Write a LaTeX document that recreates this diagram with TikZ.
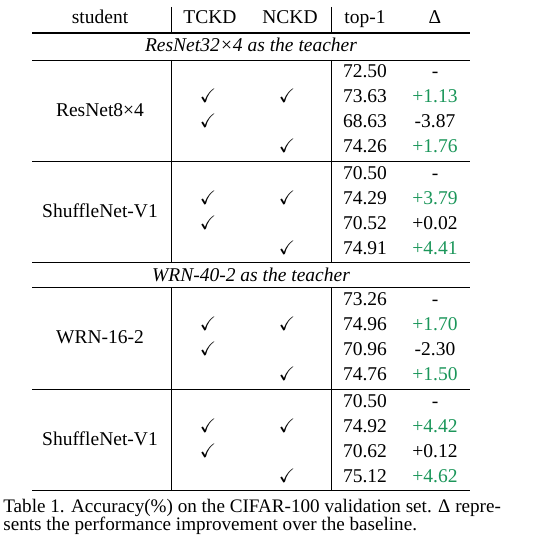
\documentclass[tikz,border=0pt]{standalone}
\usepackage{amssymb}
\usepackage{fontspec}
\setmainfont{Liberation Serif}
\definecolor{gainc}{RGB}{27,150,90}
\begin{document}
\begin{tikzpicture}[x=0.523pt,y=-0.523pt,
  txt/.style={anchor=base,inner sep=0pt,font=\fontsize{10.2}{12}\selectfont},
  gain/.style={txt,text=gainc},
  captxt/.style={anchor=base west,inner sep=0pt,font=\fontsize{10}{12}\selectfont},
  midrule/.style={line width=0.5pt},
  toprule/.style={line width=1.3pt},
  vrule/.style={line width=0.5pt}]
\useasboundingbox (0,0) rectangle (557,548);
% header
\node[txt] (hs) at (100,24) {student};
\node[txt] (ht) at (210,24) {TCKD};
\node[txt] (hn) at (290,24) {NCKD};
\node[txt] (hp) at (365,24) {top-1};
\node[txt] (hd) at (435,24) {Δ};
\draw[toprule] (32,33) -- (470,33);
\node[txt] (t1) at (251,52) {\itshape ResNet32×4 as the teacher};
\draw[midrule] (32,60) -- (470,60);
\draw[midrule] (32,161) -- (470,161);
\draw[midrule] (32,262) -- (470,262);
\node[txt] (t2) at (251,281) {\itshape WRN-40-2 as the teacher};
\draw[midrule] (32,287) -- (470,287);
\draw[midrule] (32,389) -- (470,389);
\draw[midrule] (32,490) -- (470,490);
% vertical rules
\foreach \xx in {171,331} {
  \draw[vrule] (\xx,7) -- (\xx,33);
  \draw[vrule] (\xx,60) -- (\xx,262);
  \draw[vrule] (\xx,287) -- (\xx,490);
}
% group 1
\node[txt] (s1) at (100,116) {ResNet8×4};
\node[txt] (a1) at (365,78) {72.50};  \node[txt] (d1) at (435,78) {-};
\node[txt] (a2) at (365,103) {73.63}; \node[gain] (d2) at (435,103) {+1.13};
\node[txt] (a3) at (365,128) {68.63}; \node[txt] (d3) at (435,128) {-3.87};
\node[txt] (a4) at (365,153) {74.26}; \node[gain] (d4) at (435,153) {+1.76};
\node[txt] (c1a) at (208,103) {$\checkmark$}; \node[txt] (c1b) at (287,103) {$\checkmark$};
\node[txt] (c1c) at (208,128) {$\checkmark$}; \node[txt] (c1d) at (287,153) {$\checkmark$};
% group 2
\node[txt] (s2) at (100,217) {ShuffleNet-V1};
\node[txt] (b1) at (365,179) {70.50};  \node[txt] (e1) at (435,179) {-};
\node[txt] (b2) at (365,204) {74.29}; \node[gain] (e2) at (435,204) {+3.79};
\node[txt] (b3) at (365,229) {70.52}; \node[txt] (e3) at (435,229) {+0.02};
\node[txt] (b4) at (365,254) {74.91}; \node[gain] (e4) at (435,254) {+4.41};
\node[txt] (c2a) at (208,204) {$\checkmark$}; \node[txt] (c2b) at (287,204) {$\checkmark$};
\node[txt] (c2c) at (208,229) {$\checkmark$}; \node[txt] (c2d) at (287,254) {$\checkmark$};
% group 3
\node[txt] (s3) at (100,343) {WRN-16-2};
\node[txt] (f1) at (365,305) {73.26};  \node[txt] (g1) at (435,305) {-};
\node[txt] (f2) at (365,330) {74.96}; \node[gain] (g2) at (435,330) {+1.70};
\node[txt] (f3) at (365,355) {70.96}; \node[txt] (g3) at (435,355) {-2.30};
\node[txt] (f4) at (365,380) {74.76}; \node[gain] (g4) at (435,380) {+1.50};
\node[txt] (c3a) at (208,330) {$\checkmark$}; \node[txt] (c3b) at (287,330) {$\checkmark$};
\node[txt] (c3c) at (208,355) {$\checkmark$}; \node[txt] (c3d) at (287,380) {$\checkmark$};
% group 4
\node[txt] (s4) at (100,445) {ShuffleNet-V1};
\node[txt] (h1) at (365,407) {70.50};  \node[txt] (k1) at (435,407) {-};
\node[txt] (h2) at (365,432) {74.92}; \node[gain] (k2) at (435,432) {+4.42};
\node[txt] (h3) at (365,457) {70.62}; \node[txt] (k3) at (435,457) {+0.12};
\node[txt] (h4) at (365,482) {75.12}; \node[gain] (k4) at (435,482) {+4.62};
\node[txt] (c4a) at (208,432) {$\checkmark$}; \node[txt] (c4b) at (287,432) {$\checkmark$};
\node[txt] (c4c) at (208,457) {$\checkmark$}; \node[txt] (c4d) at (287,482) {$\checkmark$};
% caption
\node[captxt] (cap1) at (3,512) {Table 1. Accuracy(\%) on the CIFAR-100 validation set. Δ repre-};
\node[captxt] (cap2) at (3,530) {sents the performance improvement over the baseline.};
\end{tikzpicture}
\end{document}
